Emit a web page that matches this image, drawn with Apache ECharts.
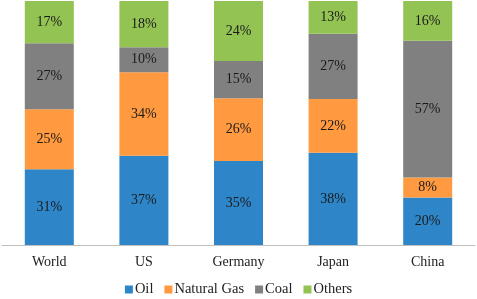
<!DOCTYPE html>
<html>
<head>
<meta charset="utf-8">
<script src="https://cdn.jsdelivr.net/npm/echarts@6/dist/echarts.min.js"></script>
<style>
  html, body { margin: 0; padding: 0; background: #fff; }
  #chart { width: 477px; height: 299px; }
</style>
</head>
<body>
<div id="chart"></div>
<script>
// categories and shares (%)
const categories = ['World', 'US', 'Germany', 'Japan', 'China'];
const oil = [31.0, 36.6, 34.4, 37.8, 19.5];
const gas = [24.6, 34.2, 25.7, 22.0, 8.2];
const coal = [27.1, 10.2, 15.3, 26.8, 56.0];
const others = [17.3, 19.0, 24.6, 13.4, 16.3];
// printed labels
const oilLabels = ['31%', '37%', '35%', '38%', '20%'];
const gasLabels = ['25%', '34%', '26%', '22%', '8%'];
const coalLabels = ['27%', '10%', '15%', '27%', '57%'];
const othersLabels = ['17%', '18%', '24%', '13%', '16%'];

const chart = echarts.init(document.getElementById('chart'));

const makeSeries = (name, data, labels, color) => ({
  name: name,
  type: 'bar',
  stack: 'total',
  barWidth: 49,
  data: data,
  itemStyle: { color: color },
  label: {
    show: true,
    position: 'inside',
    color: '#1a1a1a',
    fontFamily: 'Liberation Serif',
    fontSize: 14,
    formatter: p => labels[p.dataIndex]
  }
});

const option = {
  backgroundColor: '#fff',
  animation: false,
  grid: { left: 2, right: 2, top: 1, bottom: 54 },
  legend: {
    bottom: -3,
    left: 'center',
    icon: 'rect',
    itemWidth: 8,
    itemHeight: 8,
    itemGap: 11,
    textStyle: { fontFamily: 'Liberation Serif', fontSize: 14.5, color: '#222', padding: [0, 0, 0, -3] },
    data: ['Oil', 'Natural Gas', 'Coal', 'Others']
  },
  xAxis: {
    type: 'category',
    data: categories,
    axisLine: { lineStyle: { color: '#bfbfbf', width: 1 } },
    axisTick: { show: false },
    axisLabel: { color: '#222', fontFamily: 'Liberation Serif', fontSize: 14, margin: 10 }
  },
  yAxis: {
    type: 'value',
    min: 0,
    max: 100,
    show: false,
    splitLine: { show: false }
  },
  series: [
    makeSeries('Oil', oil, oilLabels, '#2E86C8'),
    makeSeries('Natural Gas', gas, gasLabels, '#FF9A40'),
    makeSeries('Coal', coal, coalLabels, '#808080'),
    makeSeries('Others', others, othersLabels, '#92C353')
  ]
};

chart.setOption(option);
</script>
</body>
</html>
